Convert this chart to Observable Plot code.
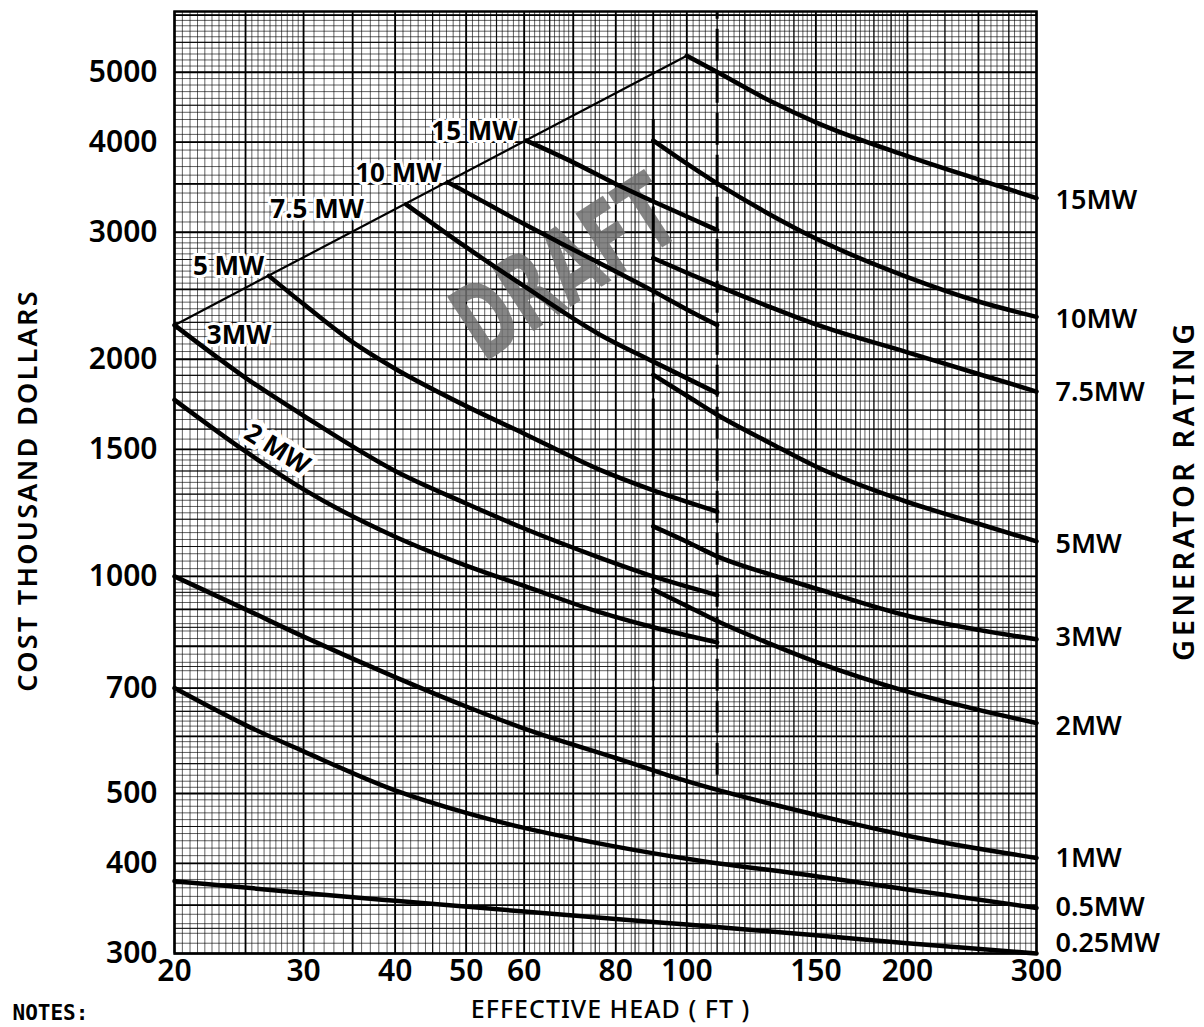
<!DOCTYPE html>
<html>
<head>
<meta charset="utf-8">
<script src="https://cdn.jsdelivr.net/npm/d3@7"></script>
<script src="https://cdn.jsdelivr.net/npm/@observablehq/plot@0.6"></script>
<style>
  html, body { margin: 0; padding: 0; background: #fff; }
  #chart svg { display: block; }
  .axtitle-r text { letter-spacing: 3.5px; }
  .axtitle-l text { letter-spacing: 2.3px; }
  .axtitle-b text { letter-spacing: 1px; }
</style>
</head>
<body>
<div id="chart"></div>
<script>
// ---------------- DATA ----------------
// Axis ticks
const xTicks = [20, 30, 40, 50, 60, 80, 100, 150, 200, 300];
const yTicks = [300, 400, 500, 700, 1000, 1500, 2000, 3000, 4000, 5000];
const xDomain = [20, 300];
const yDomain = [300, 6070];

// Graph-paper grid: [from, to, step]
const gridXSteps = [[20, 30, 0.5], [30, 50, 1], [50, 70, 1], [70, 100, 2], [100, 150, 2], [150, 200, 2.5], [200, 300, 5]];
const gridYSteps = [[300, 700, 10], [700, 1000, 20], [1000, 1500, 25], [1500, 3000, 50], [3000, 6100, 100]];
const midX = [45, 55, 65, 75, 85, 95, 110, 120, 130, 140, 160, 170, 180, 190, 225, 275];
const midY = [325, 375, 450, 550, 650, 750, 850, 950, 1100, 1200, 1300, 1400, 1600, 1700, 1800, 1900, 2250, 2750, 4500, 5500];
const majorX = [20, 25, 30, 35, 40, 50, 60, 70, 80, 90, 100, 150, 200, 250, 300];
const majorY = [300, 350, 400, 500, 600, 700, 800, 900, 1000, 1500, 2000, 2500, 3000, 3500, 4000, 5000, 6000];

// Cost curves [effective head ft, cost thousand $]
const mw025 = [[20, 378], [30, 364], [40, 355], [60, 343], [80, 335], [100, 329], [150, 318], [200, 310], [300, 300]];
const mw05  = [[20, 700], [25, 622], [30, 572], [40, 505], [50, 470], [60, 448], [80, 422], [100, 406], [150, 384], [200, 368], [300, 347]];
const mw1   = [[20, 1000], [25, 900], [30, 825], [40, 725], [50, 660], [60, 615], [80, 560], [100, 520], [150, 467], [200, 437], [300, 407]];
const mw2Low  = [[20, 1757], [25, 1490], [30, 1320], [40, 1135], [50, 1035], [60, 970], [76, 892], [90, 850], [110, 810]];
const mw2High = [[90, 959], [100, 910], [110, 867], [130, 806], [150, 761], [200, 692], [250, 653], [300, 626]];
const mw3Low  = [[20, 2230], [25, 1885], [30, 1670], [40, 1400], [50, 1262], [60, 1165], [76, 1062], [90, 1000], [110, 942]];
const mw3High = [[90, 1173], [100, 1117], [110, 1066], [130, 1006], [150, 962], [200, 882], [250, 843], [300, 818]];
const mw5Low  = [[26.9, 2610], [30, 2385], [35, 2112], [40, 1940], [50, 1722], [60, 1577], [76, 1406], [90, 1316], [110, 1230]];
const mw5High = [[90, 1903], [100, 1780], [110, 1675], [130, 1530], [150, 1420], [200, 1268], [250, 1183], [300, 1118]];
const mw75Low  = [[41.4, 3280], [50, 2860], [60, 2525], [76, 2165], [90, 1985], [110, 1795]];
const mw75High = [[90, 2762], [100, 2636], [110, 2530], [130, 2362], [150, 2235], [200, 2045], [250, 1908], [300, 1804]];
const mw10Low  = [[47.2, 3520], [50, 3410], [60, 3080], [69, 2860], [80, 2646], [90, 2486], [100, 2345], [110, 2231]];
const mw10High = [[90, 4020], [100, 3734], [110, 3506], [130, 3173], [150, 2940], [200, 2600], [250, 2405], [300, 2290]];
const mw15Low  = [[60.4, 4020], [70, 3750], [80, 3500], [90, 3310], [100, 3155], [110, 3020]];
const mw15High = [[100, 5270], [110, 5003], [130, 4560], [150, 4260], [200, 3825], [250, 3550], [300, 3345]];
const envelope = [[20, 2230], [100, 5270]];

// Head limits drawn as dashed verticals
const limitHeads = [90, 110];
const limitTop = [4300, 6070];
const limitBottom = [527, 530];

// Labels inside the plot
const inLabelText = ["15 MW", "10 MW", "7.5 MW", "5 MW", "3MW"];
const inLabelHead = [51.3, 40.4, 31.3, 23.7, 24.5];
const inLabelCost = [4140, 3620, 3220, 2685, 2155];
const slantLabelText = ["2 MW"];
const slantLabelHead = [27.6];
const slantLabelCost = [1500];

// Generator rating labels at the right
const endLabelText = ["15MW", "10MW", "7.5MW", "5MW", "3MW", "2MW", "1MW", "0.5MW", "0.25MW"];
const endLabelCost = [3320, 2270, 1797, 1107, 823, 620, 406, 348, 310];

const draftText = ["DRAFT"];
const draftHead = [68.5];
const draftCost = [2660];

// ---------------- BUILD ----------------
const seriesList = [
  ["0.25", mw025], ["0.5", mw05], ["1", mw1],
  ["2L", mw2Low], ["2H", mw2High], ["3L", mw3Low], ["3H", mw3High],
  ["5L", mw5Low], ["5H", mw5High], ["7.5L", mw75Low], ["7.5H", mw75High],
  ["10L", mw10Low], ["10H", mw10High], ["15L", mw15Low], ["15H", mw15High]
];
const curveRows = seriesList.flatMap(([key, pts]) => pts.map(([head, cost]) => ({key, head, cost})));
const envRows = envelope.map(([head, cost]) => ({head, cost}));
const fineX = gridXSteps.flatMap(([a, b, s]) => d3.range(a, b, s));
const fineY = gridYSteps.flatMap(([a, b, s]) => d3.range(a, b, s)).filter(v => v <= yDomain[1]);
const limitRows = limitHeads.map((h, i) => ({head: h, top: limitTop[i], bottom: limitBottom[i]}));
const inLabels = inLabelText.map((t, i) => ({text: t, head: inLabelHead[i], cost: inLabelCost[i]}));
const slantLabels = slantLabelText.map((t, i) => ({text: t, head: slantLabelHead[i], cost: slantLabelCost[i]}));
const endLabels = endLabelText.map((t, i) => ({text: t, head: xDomain[1], cost: endLabelCost[i]}));
const draftRows = draftText.map((t, i) => ({text: t, head: draftHead[i], cost: draftCost[i]}));

const fmt = d => String(d);
const labelFont = "'Noto Sans', 'DejaVu Sans', sans-serif";

const chart = Plot.plot({
  width: 1204,
  height: 1027,
  marginLeft: 174,
  marginRight: 168,
  marginTop: 11,
  marginBottom: 74,
  style: {fontFamily: labelFont, fontSize: "30px", fontWeight: 600, background: "white", color: "black"},
  x: {type: "log", domain: xDomain, ticks: xTicks, tickFormat: fmt, tickSize: 0, tickPadding: 6, label: null},
  y: {type: "log", domain: yDomain, ticks: yTicks, tickFormat: fmt, tickSize: 0, tickPadding: 17, label: null},
  marks: [
    // graph paper
    Plot.ruleX(fineX, {stroke: "#000", strokeOpacity: 0.62, strokeWidth: 1}),
    Plot.ruleY(fineY, {stroke: "#000", strokeOpacity: 0.62, strokeWidth: 1}),
    Plot.ruleX(midX, {stroke: "#000", strokeOpacity: 0.85, strokeWidth: 1.2}),
    Plot.ruleY(midY, {stroke: "#000", strokeOpacity: 0.85, strokeWidth: 1.2}),
    Plot.ruleX(majorX, {stroke: "#000", strokeWidth: 1.8}),
    Plot.ruleY(majorY, {stroke: "#000", strokeWidth: 1.8}),
    // DRAFT stamp
    Plot.text(draftRows, {x: "head", y: "cost", text: "text", rotate: -33, fontSize: 104,
      fontFamily: "'DejaVu Sans', sans-serif", fontWeight: "bold",
      fill: "#707070", fillOpacity: 0.85, className: "draft"}),
    // curves
    Plot.line(curveRows, {x: "head", y: "cost", z: "key", stroke: "black", strokeWidth: 4.5, curve: "monotone-x"}),
    Plot.line(envRows, {x: "head", y: "cost", stroke: "black", strokeWidth: 2.2}),
    // head limits
    Plot.ruleX(limitRows.slice(0, 1), {x: "head", y1: "bottom", y2: "top", stroke: "black", strokeWidth: 3, strokeDasharray: "90,6"}),
    Plot.ruleX(limitRows.slice(1), {x: "head", y1: "bottom", y2: "top", stroke: "black", strokeWidth: 3, strokeDasharray: "32,10"}),
    Plot.frame({stroke: "black", strokeWidth: 2.5}),
    // labels on curves
    Plot.text(inLabels, {x: "head", y: "cost", text: "text", fontSize: 26, fontWeight: 700,
      fill: "black", stroke: "white", strokeWidth: 6}),
    Plot.text(slantLabels, {x: "head", y: "cost", text: "text", rotate: 32, fontSize: 26, fontWeight: 700,
      fill: "black", stroke: "white", strokeWidth: 10}),
    // rating labels at right
    Plot.text(endLabels, {x: "head", y: "cost", text: "text", textAnchor: "start", dx: 19, fontSize: 27, fontWeight: 600, fill: "black"}),
    // axis titles
    Plot.text(["COST THOUSAND DOLLARS"], {frameAnchor: "left", textAnchor: "middle", dx: -146, dy: 8, rotate: -90, fontSize: 27, fontWeight: 600, className: "axtitle-l"}),
    Plot.text(["GENERATOR RATING"], {frameAnchor: "right", textAnchor: "middle", dx: 148, dy: 8, rotate: -90, fontSize: 29, fontWeight: 600, className: "axtitle-r"}),
    Plot.text(["EFFECTIVE HEAD ( FT )"], {frameAnchor: "bottom", dx: 5, dy: 56, lineAnchor: "middle", fontSize: 25, fontWeight: 500, className: "axtitle-b"}),
    Plot.text(["NOTES:"], {frameAnchor: "bottom-left", dx: -162, dy: 60, lineAnchor: "middle", textAnchor: "start",
      fontSize: 21, fontWeight: "bold", fontFamily: "'DejaVu Sans Mono', monospace"})
  ]
});

// condense the stamp lettering along its baseline (tall, narrow stamp letters)
d3.select(chart).selectAll(".draft text").each(function() {
  const t = this.getAttribute("transform") || "";
  this.setAttribute("transform", t + " scale(0.62,1)");
});

document.getElementById("chart").appendChild(chart);
</script>
</body>
</html>
